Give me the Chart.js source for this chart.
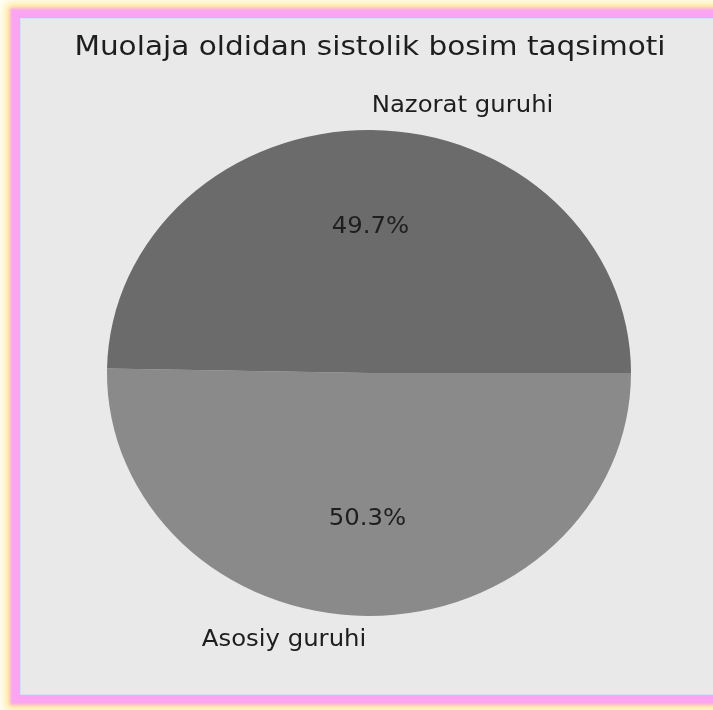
<!DOCTYPE html>
<html>
<head>
<meta charset="utf-8">
<script src="https://cdn.jsdelivr.net/npm/chart.js@4/dist/chart.umd.min.js"></script>
<style>
    html, body { margin: 0; padding: 0; background: #fffdf6; overflow: hidden; }
    #cadre {
        position: absolute; left: 21px; top: 19px; width: 720px; height: 675px;
        background: #e9e9e9;
        box-shadow: 0 0 0 1px #dcdcf4, 0 0 3px 11px #fba4f2, 0 0 8px 15px #ffe88a;
    }
    #zone { position: absolute; left: 0; top: 0; width: 713px; height: 710px; }
</style>
</head>
<body>
<div id="cadre"></div>
<div id="zone"><canvas id="canvas-diagramme" width="713" height="710"></canvas></div>
<script>
'use strict';

/* global Chart */

// Données du diagramme (ordre horaire à partir de 3 h)
const categories = ['Asosiy guruhi', 'Nazorat guruhi'];
const valeurs = [50.3, 49.7];
const couleurs = ['#8a8a8a', '#6b6b6b'];
const titre = 'Muolaja oldidan sistolik bosim taqsimoti';

const etirement = 262 / 243; // l'image d'origine est un peu étirée en largeur

document.addEventListener('DOMContentLoaded', function () {
    const ctx = document.getElementById('canvas-diagramme').getContext('2d');

    // Étire la tarte horizontalement
    const pluginEllipse = {
        id: 'ellipse',
        beforeDatasetsDraw(chart) {
            const arc = chart.getDatasetMeta(0).data[0];
            const c = chart.ctx;
            c.save();
            c.translate(arc.x, arc.y);
            c.scale(etirement, 1);
            c.translate(-arc.x, -arc.y);
        },
        afterDatasetsDraw(chart) {
            chart.ctx.restore();
        }
    };

    // texte étiré lui aussi
    function ecrire(c, txt, x, y, align) {
        c.save();
        c.translate(x, y);
        c.scale(etirement, 1);
        c.textAlign = align;
        c.fillText(txt, 0, 0);
        c.restore();
    }

    // Titre, étiquettes et pourcentages façon matplotlib
    const pluginTextes = {
        id: 'textes',
        afterDraw(chart) {
            const c = chart.ctx;
            const meta = chart.getDatasetMeta(0);
            const total = valeurs.reduce((a, b) => a + b, 0);
            c.save();
            c.fillStyle = '#1e1e1e';
            c.textBaseline = 'middle';
            c.font = '27.4px "DejaVu Sans"';
            ecrire(c, titre, 370, 48, 'center');
            c.font = '22.6px "DejaVu Sans"';
            meta.data.forEach(function (arc, i) {
                const mid = (arc.startAngle + arc.endAngle) / 2;
                const r = arc.outerRadius;
                const cx = Math.cos(mid), cy = Math.sin(mid);
                ecrire(c, (valeurs[i] / total * 100).toFixed(1) + '%',
                    arc.x + cx * r * 0.6 * etirement, arc.y + cy * r * 0.6, 'center');
                ecrire(c, categories[i],
                    arc.x + cx * r * 1.1 * etirement, arc.y + cy * r * 1.1,
                    cx >= 0 ? 'left' : 'right');
            });
            c.restore();
        }
    };

    // eslint-disable-next-line no-unused-vars
    let diagChartJs = new Chart(ctx, {
        type: 'pie',
        data: {
            labels: categories,
            datasets: [{
                data: valeurs,
                backgroundColor: couleurs,
                borderWidth: 0
            }]
        },
        options: {
            responsive: false,
            animation: false,
            rotation: 90,
            layout: { padding: { left: 126, right: 101, top: 130, bottom: 94 } },
            plugins: {
                legend: { display: false },
                title: { display: false },
                tooltip: { enabled: false }
            }
        },
        plugins: [pluginEllipse, pluginTextes]
    });
});
</script>
</body>
</html>
